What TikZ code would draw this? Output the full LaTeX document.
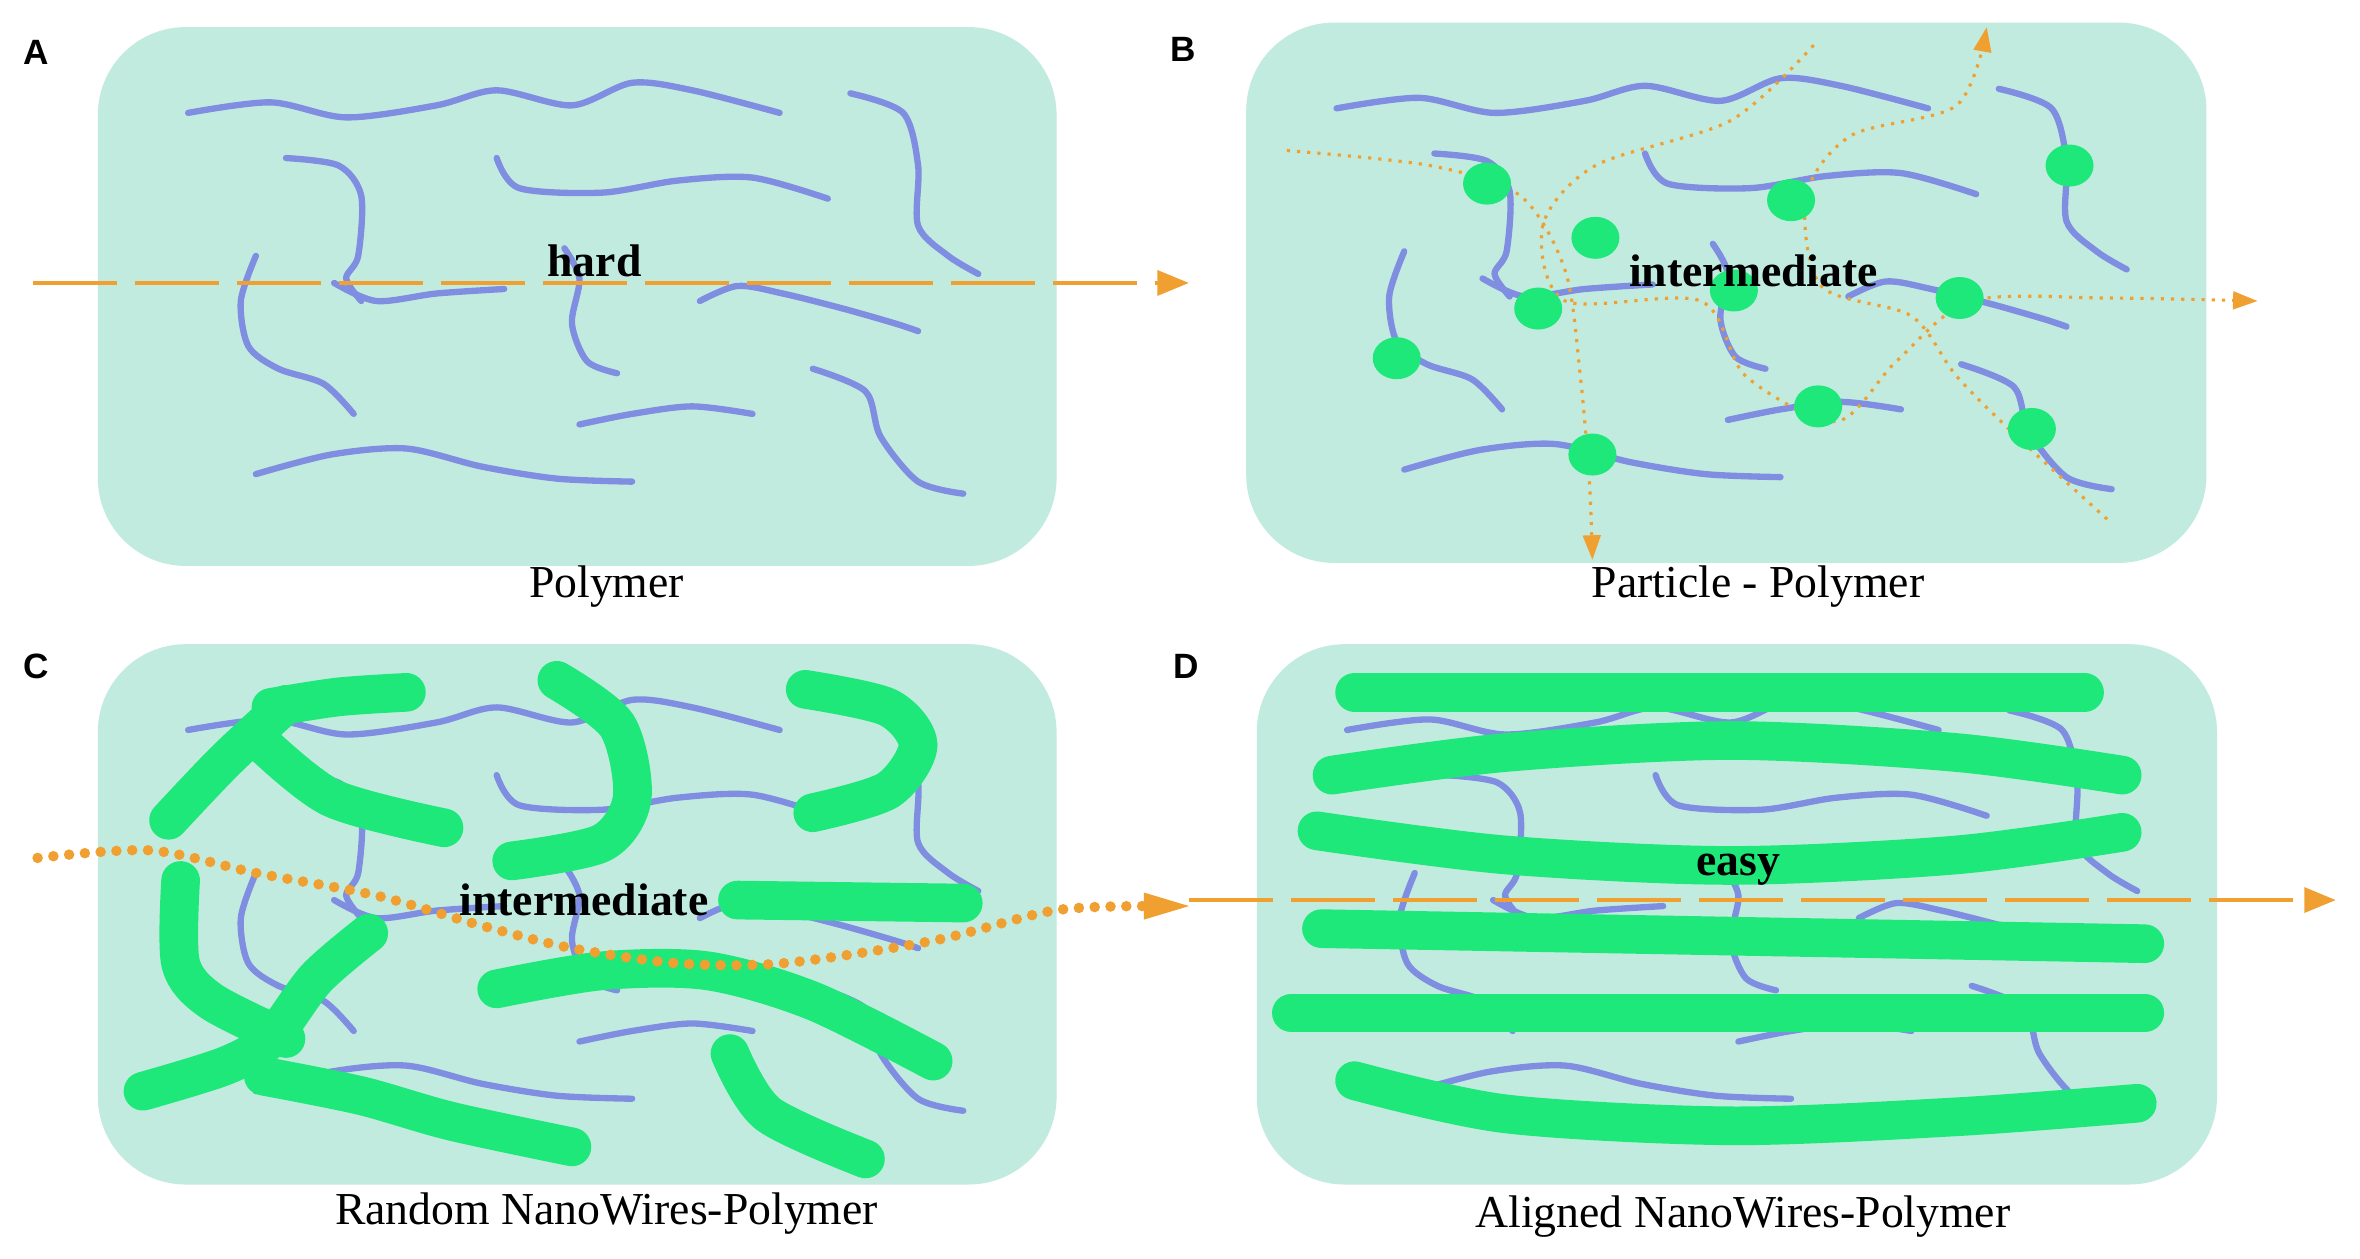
\documentclass[tikz,border=0pt]{standalone}
\usepackage{fontspec}
\setmainfont{Liberation Serif}
\setsansfont{Liberation Sans}
\usetikzlibrary{arrows.meta}
\definecolor{panelbg}{HTML}{C2EBE0}
\definecolor{chain}{HTML}{7F8EE0}
\definecolor{wire}{HTML}{1EE87A}
\definecolor{flow}{HTML}{F0A030}
\tikzset{
 panel/.style={fill=panelbg,draw=none,rounded corners=25},
 chainline/.style={chain,line width=1.8pt,line cap=round},
 wireline/.style={wire,line width=11pt,line cap=round},
 dot/.style={ellipse,fill=wire,minimum width=0.48cm,minimum height=0.42cm,inner sep=0pt},
 captext/.style={font=\fontsize{13}{15}\selectfont},
 lbl/.style={font=\sffamily\bfseries\fontsize{10}{12}\selectfont},
 word/.style={font=\bfseries\fontsize{13}{15}\selectfont},
 dashflow/.style={flow,line width=1.3pt,dash pattern=on 24pt off 5pt,-{Triangle[length=9pt,width=7pt]}},
 dotflow/.style={flow,line width=0.9pt,dotted,-{Triangle[length=7pt,width=5pt]}}
}
\usetikzlibrary{shapes.geometric}
\newcommand\polychains{%
 \draw[chainline] plot[smooth] coordinates {(125,75)(180,68)(230,78)(290,70)(330,60)(380,70)(420,55)(460,60)(518,75)};
 \draw[chainline] plot[smooth] coordinates {(565,62)(600,75)(610,110)(610,150)(630,170)(650,182)};
 \draw[chainline] plot[smooth] coordinates {(190,105)(225,110)(240,130)(238,170)(230,185)(240,200)};
 \draw[chainline] plot[smooth] coordinates {(330,105)(345,125)(400,128)(450,120)(500,118)(550,132)};
 \draw[chainline] plot[smooth] coordinates {(170,170)(160,200)(165,230)(185,245)(215,255)(235,275)};
 \draw[chainline] plot[smooth] coordinates {(222,188)(250,200)(290,195)(335,192)};
 \draw[chainline] plot[smooth] coordinates {(375,165)(385,185)(380,215)(390,240)(410,248)};
 \draw[chainline] plot[smooth] coordinates {(465,200)(490,190)(520,195)(560,205)(595,215)(610,220)};
 \draw[chainline] plot[smooth] coordinates {(540,245)(575,260)(585,290)(610,320)(640,328)};
 \draw[chainline] plot[smooth] coordinates {(385,282)(420,275)(460,270)(500,275)};
 \draw[chainline] plot[smooth] coordinates {(170,315)(220,302)(270,298)(320,310)(370,318)(420,320)};
}
\begin{document}
\begin{tikzpicture}[x=0.01505cm,y=-0.01505cm]
\useasboundingbox[fill=white] (0,0) rectangle (1568,836);
% panels
\fill[panel] (65,18) rectangle (702,376);
\fill[panel] (828,15) rectangle (1466,374);
\fill[panel] (65,428) rectangle (702,787);
\fill[panel] (835,428) rectangle (1473,787);
\node[lbl] (la) at (24,35) {A};
\node[lbl] (lb) at (786,33) {B};
\node[lbl] (lc) at (24,443) {C};
\node[lbl] (ld) at (788,443) {D};
\node[captext] (ca) at (403,390) {Polymer};
\node[captext] (cb) at (1168,390) {Particle - Polymer};
\node[captext] (cc) at (403,806) {Random NanoWires-Polymer};
\node[captext] (cd) at (1158,808) {Aligned NanoWires-Polymer};
% chains
\polychains
\begin{scope}[shift={(763,-3)}]\polychains\end{scope}
\begin{scope}[shift={(0,410)}]\polychains\end{scope}
\begin{scope}[shift={(770,410)}]\polychains\end{scope}
% A
\draw[dashflow] (22,188) -- (790,188);
\node[word] (wa) at (395,173) {hard};
% B
\draw[dotflow] plot[smooth] coordinates {(855,100)(950,110)(1010,130)(1040,180)(1050,250)(1056,320)(1058,372)};
\draw[dotflow] plot[smooth] coordinates {(1205,30)(1150,80)(1060,110)(1025,150)(1040,200)(1130,200)(1160,250)(1220,280)(1260,240)(1310,200)(1400,198)(1500,200)};
\draw[dotflow] plot[smooth] coordinates {(1400,345)(1340,290)(1300,250)(1270,210)(1210,190)(1200,130)(1230,90)(1300,70)(1320,18)};
\foreach \p/\n in {(988,122)/d1,(1060,158)/d2,(1190,133)/d3,(1375,110)/d4,(1022,205)/d5,(1152,193)/d6,(1302,198)/d7,(928,238)/d8,(1208,270)/d9,(1350,285)/d10,(1058,302)/d11}
  \node[dot] (\n) at \p {};
\node[word] (wb) at (1165,180) {intermediate};
% C wires
\draw[wireline] plot[smooth] coordinates {(112,545)(150,505)(190,468)};
\draw[wireline] plot[smooth] coordinates {(180,470)(225,463)(270,460)};
\draw[wireline] plot[smooth] coordinates {(170,490)(220,530)(295,550)};
\draw[wireline] plot[smooth] coordinates {(370,452)(410,482)(420,530)(400,560)(340,572)};
\draw[wireline] plot[smooth] coordinates {(535,458)(590,470)(610,495)(590,525)(540,540)};
\draw[wireline] plot[smooth] coordinates {(490,598)(640,600)};
\draw[wireline] plot[smooth] coordinates {(120,585)(120,640)(140,665)(190,690)};
\draw[wireline] plot[smooth] coordinates {(245,620)(210,650)(180,690)(150,708)(95,725)};
\draw[wireline] plot[smooth] coordinates {(175,715)(240,728)(300,745)(380,762)};
\draw[wireline] plot[smooth] coordinates {(330,657)(400,645)(470,645)(540,665)(620,705)};
\draw[wireline] plot[smooth] coordinates {(485,700)(510,740)(575,770)};
\draw[flow,line width=3pt,dash pattern=on 0pt off 4.5pt,line cap=round] plot[smooth] coordinates {(25,570)(100,565)(170,580)(250,595)(320,615)(380,630)(450,640)(520,640)(620,625)(700,605)(760,602)};
\fill[flow] (790,602) -- (760,593) -- (760,611) -- cycle;
\node[word] (wc) at (388,598) {intermediate};
% D wires
\draw[wireline] (900,460) -- (1385,460);
\draw[wireline] plot[smooth] coordinates {(885,515)(1000,500)(1150,492)(1300,500)(1410,515)};
\draw[wireline] plot[smooth] coordinates {(875,552)(1000,568)(1150,575)(1300,568)(1410,553)};
\draw[wireline] (878,617) -- (1425,627);
\draw[wireline] (858,673) -- (1425,673);
\draw[wireline] plot[smooth] coordinates {(900,718)(1000,740)(1150,748)(1300,742)(1420,733)};
\draw[dashflow] (790,598) -- (1552,598);
\node[word] (wd) at (1155,578) {easy};
\end{tikzpicture}
\end{document}
